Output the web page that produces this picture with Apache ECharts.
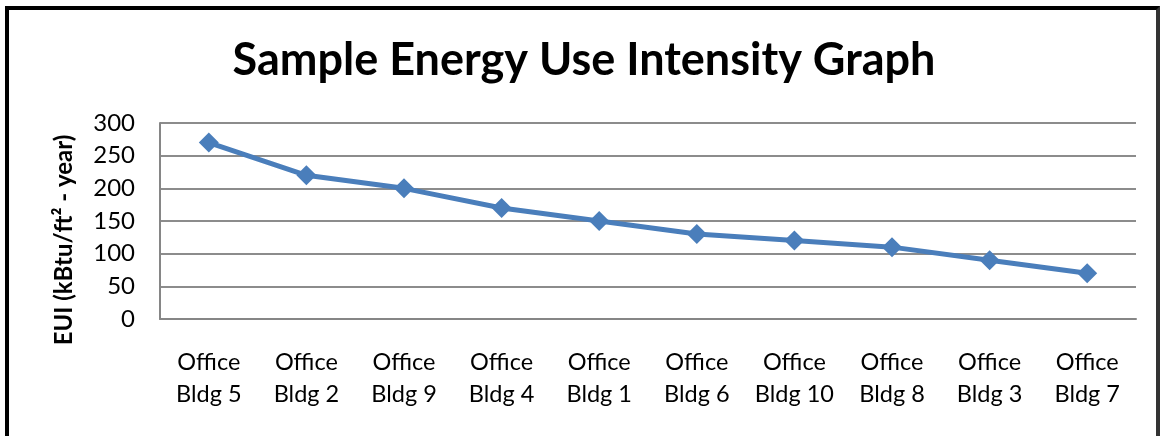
<!DOCTYPE html>
<html>
<head>
<meta charset="utf-8">
<script src="https://cdn.jsdelivr.net/npm/echarts@6/dist/echarts.min.js"></script>
<style>
html,body{margin:0;padding:0;background:#fff;}
#wrap{position:relative;width:1168px;height:436px;overflow:hidden;}
#frame{position:absolute;left:5px;top:6px;width:1155px;height:460px;border-top:4px solid #000;border-left:4px solid #000;border-right:4px solid #333;box-sizing:border-box;}
#chart{position:absolute;left:0;top:0;width:1168px;height:436px;}
</style>
</head>
<body>
<div id="wrap">
<div id="frame"></div>
<div id="chart"></div>
</div>
<script>
const categories = ['Office\nBldg 5','Office\nBldg 2','Office\nBldg 9','Office\nBldg 4','Office\nBldg 1','Office\nBldg 6','Office\nBldg 10','Office\nBldg 8','Office\nBldg 3','Office\nBldg 7'];
const euiValues = [270, 220, 200, 170, 150, 130, 120, 110, 90, 70];
const titleText = 'Sample Energy Use Intensity Graph';
const yAxisName = 'EUI (kBtu/ft² - year)';

const chart = echarts.init(document.getElementById('chart'), null, {renderer:'canvas'});
chart.setOption({
  animation:false,
  title:{
    text:titleText,
    left:'center',
    top:33,
    textStyle:{fontFamily:'Lato',fontWeight:'bold',fontSize:45,color:'#000'}
  },
  grid:{left:160,right:32,top:123,bottom:117,containLabel:false},
  xAxis:{
    type:'category',
    data:categories,
    boundaryGap:true,
    axisLine:{show:true,lineStyle:{color:'#868686',width:2}},
    axisTick:{show:false},
    axisLabel:{fontFamily:'Lato',fontSize:23.5,color:'#000',lineHeight:32,margin:27,interval:0}
  },
  yAxis:{
    type:'value',
    min:0,max:300,interval:50,
    name:yAxisName,
    nameLocation:'middle',
    nameRotate:90,
    nameGap:84,
    nameTextStyle:{fontFamily:'Lato',fontWeight:'bold',fontSize:24,color:'#000',padding:[0,38,0,0]},
    axisLine:{show:true,lineStyle:{color:'#868686',width:2}},
    axisTick:{show:false},
    splitLine:{show:true,lineStyle:{color:'#8c8c8c',width:2}},
    axisLabel:{fontFamily:'Lato',fontSize:24,color:'#000',margin:25}
  },
  series:[{
    type:'line',
    data:euiValues,
    symbol:'diamond',
    symbolSize:20,
    lineStyle:{color:'#4a7ebb',width:5},
    itemStyle:{color:'#4a7ebb'}
  }]
});
</script>
</body>
</html>
